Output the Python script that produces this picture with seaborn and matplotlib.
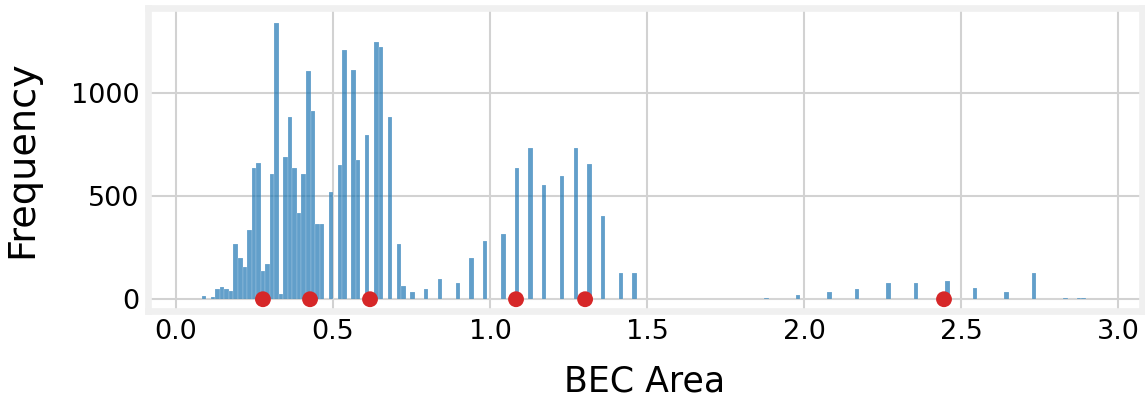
import matplotlib
matplotlib.use("Agg")
import matplotlib.pyplot as plt
import numpy as np
import pandas as pd
import seaborn as sns

# Histogram bins: centres of the occupied bins and their counts
area_values = [
    0.0892, 0.1181, 0.1325, 0.1470, 0.1614, 0.1759, 0.1903, 0.2047, 0.2192,
    0.2336, 0.2481, 0.2625, 0.2770, 0.2914, 0.3058, 0.3203, 0.3347, 0.3492,
    0.3636, 0.3780, 0.3925, 0.4069, 0.4214, 0.4358, 0.4502, 0.4647, 0.4936,
    0.5225, 0.5369, 0.5658, 0.5802, 0.6091, 0.6380, 0.6524, 0.6813, 0.7102,
    0.7246, 0.7535, 0.7968, 0.8402, 0.8979, 0.9412, 0.9846, 1.0423, 1.0857,
    1.1290, 1.1723, 1.2301, 1.2734, 1.3167, 1.3600, 1.4178, 1.4611, 1.8799,
    1.9810, 2.0821, 2.1687, 2.2698, 2.3565, 2.4575, 2.5442, 2.6453, 2.7319,
    2.8330, 2.8763, 2.8908,
]
counts = [
    17, 10, 48, 60, 48, 42, 268, 200, 155,
    334, 635, 658, 137, 171, 606, 1339, 26, 690,
    884, 634, 416, 606, 1105, 911, 363, 363, 518,
    648, 1207, 1110, 673, 797, 1247, 1223, 881, 266,
    64, 34, 50, 97, 80, 201, 283, 316, 637,
    733, 551, 597, 733, 654, 405, 126, 126, 4,
    21, 34, 48, 77, 80, 87, 55, 34, 126,
    4, 4, 4,
]

# Highlighted areas shown as points on the baseline
marked_areas = [0.277, 0.427, 0.618, 1.083, 1.303, 2.446]

bin_range = (0.082, 2.898)
n_bins = 195

sns.set_style("whitegrid", {
    "axes.facecolor": "white",
    "axes.edgecolor": "#f0f0f0",
    "grid.color": "#d2d2d2",
    "axes.grid": True,
    "text.color": "black",
    "axes.labelcolor": "black",
    "xtick.color": "black",
    "ytick.color": "black",
})
plt.rcParams["font.family"] = ["DejaVu Sans"]
plt.rcParams["axes.linewidth"] = 4.8
plt.rcParams["grid.linewidth"] = 1.5

fig = plt.figure(figsize=(11.45, 3.98), dpi=100)
ax = fig.add_axes([0.129, 0.2186, 0.8685, 0.7614])

hist_df = pd.DataFrame({"area": area_values, "count": counts})
sns.histplot(data=hist_df, x="area", weights="count", bins=n_bins,
             binrange=bin_range, color="#1f77b4", alpha=0.7,
             edgecolor="white", linewidth=0.12, ax=ax)

marks_df = pd.DataFrame({"area": marked_areas, "y": [0] * len(marked_areas)})
sns.scatterplot(data=marks_df, x="area", y="y", color="#d62728", s=130,
                edgecolor="none", zorder=5, ax=ax, clip_on=False)

ax.set_xlim(-0.09, 3.077)
ax.set_ylim(-57, 1410)
ax.set_xticks(np.arange(0, 3.01, 0.5))
ax.set_yticks([0, 500, 1000])
ax.set_xlabel("BEC Area", fontsize=25, labelpad=14)
ax.set_ylabel("Frequency", fontsize=27.5, labelpad=22)
ax.tick_params(axis="both", labelsize=19.5, length=0, pad=6,
               labelcolor="black")
ax.set_axisbelow(True)
ax.grid(True, color="#d2d2d2", linewidth=1.5)
for sp in ax.spines.values():
    sp.set_color("#f0f0f0")
    sp.set_linewidth(4.8)

fig.savefig("out.png", dpi=100, facecolor="white")
